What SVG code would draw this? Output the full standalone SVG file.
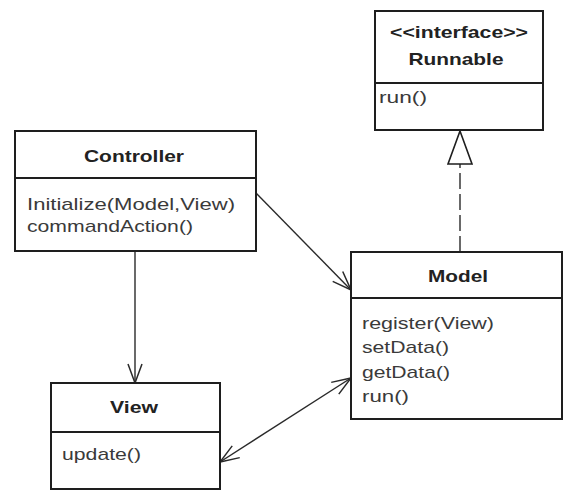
<svg xmlns="http://www.w3.org/2000/svg" width="564" height="491" viewBox="0 0 564 491">
  <style>
    .box { fill: #ffffff; stroke: #1e1e1e; stroke-width: 2; }
    .div { stroke: #1e1e1e; stroke-width: 2; }
    .title { font-family: "Liberation Sans", Arial, sans-serif; font-size: 17px; font-weight: bold; fill: #222222; text-anchor: middle; }
    .op { font-family: "Liberation Sans", Arial, sans-serif; font-size: 17px; fill: #3a3a3a; }
    .conn { fill: none; stroke: #2a2a2a; stroke-width: 1.4; }
    .dash { stroke-dasharray: 16 5; }
  </style>
  <defs>
    <marker id="open" markerUnits="userSpaceOnUse" markerWidth="24" markerHeight="20" viewBox="-22 -10 24 20" refX="0" refY="0" orient="auto-start-reverse">
      <path d="M -19 -7 L 0 0 L -19 7" fill="none" stroke="#2a2a2a" stroke-width="1.5"/>
    </marker>
  </defs>
  <rect width="564" height="491" fill="#ffffff"/>

  <g id="connectors">
    <line class="conn" x1="256" y1="193" x2="351" y2="290" marker-end="url(#open)"/>
    <line class="conn" x1="135" y1="251" x2="135" y2="383" marker-end="url(#open)"/>
    <line class="conn" x1="220" y1="462" x2="351" y2="378" marker-start="url(#open)" marker-end="url(#open)"/>
    <line class="conn dash" x1="460" y1="252" x2="460" y2="164"/>
    <polygon points="460,131 448,164 472,164" fill="#ffffff" stroke="#1e1e1e" stroke-width="1.6"/>
  </g>

  <g id="runnable">
    <rect class="box" x="375" y="11" width="168" height="119"/>
    <line class="div" x1="375" y1="83" x2="543" y2="83"/>
    <text class="title" x="459" y="38" textLength="138" lengthAdjust="spacingAndGlyphs">&lt;&lt;interface&gt;&gt;</text>
    <text class="title" x="456" y="65" textLength="95" lengthAdjust="spacingAndGlyphs">Runnable</text>
    <text class="op" x="379" y="103" textLength="48" lengthAdjust="spacingAndGlyphs">run()</text>
  </g>

  <g id="controller">
    <rect class="box" x="15" y="131" width="241" height="120"/>
    <line class="div" x1="15" y1="178" x2="256" y2="178"/>
    <text class="title" x="134" y="162" textLength="100" lengthAdjust="spacingAndGlyphs">Controller</text>
    <text class="op" x="27" y="210" textLength="208" lengthAdjust="spacingAndGlyphs">Initialize(Model,View)</text>
    <text class="op" x="27" y="232" textLength="166" lengthAdjust="spacingAndGlyphs">commandAction()</text>
  </g>

  <g id="model">
    <rect class="box" x="351" y="252" width="211" height="167"/>
    <line class="div" x1="351" y1="298" x2="562" y2="298"/>
    <text class="title" x="458" y="282" textLength="60" lengthAdjust="spacingAndGlyphs">Model</text>
    <text class="op" x="362" y="329" textLength="132" lengthAdjust="spacingAndGlyphs">register(View)</text>
    <text class="op" x="362" y="353" textLength="87" lengthAdjust="spacingAndGlyphs">setData()</text>
    <text class="op" x="362" y="378" textLength="88" lengthAdjust="spacingAndGlyphs">getData()</text>
    <text class="op" x="362" y="402" textLength="47" lengthAdjust="spacingAndGlyphs">run()</text>
  </g>

  <g id="view">
    <rect class="box" x="51" y="383" width="169" height="106"/>
    <line class="div" x1="51" y1="432" x2="220" y2="432"/>
    <text class="title" x="134" y="413" textLength="48" lengthAdjust="spacingAndGlyphs">View</text>
    <text class="op" x="62" y="460" textLength="79" lengthAdjust="spacingAndGlyphs">update()</text>
  </g>
</svg>
